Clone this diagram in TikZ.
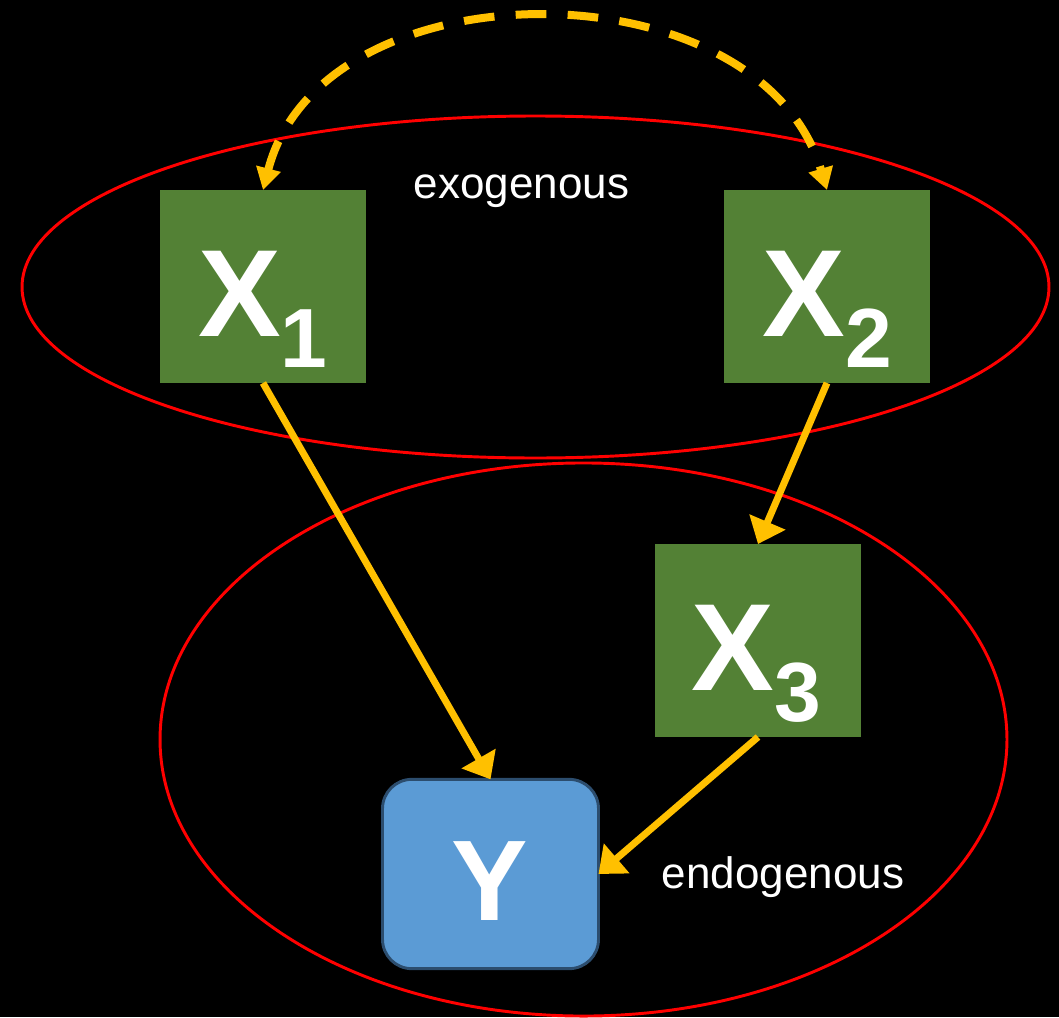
\documentclass[tikz,border=0pt]{standalone}
\usepackage{fontspec}
\setmainfont{Liberation Sans}
\usetikzlibrary{arrows.meta}
\definecolor{boxgreen}{HTML}{538135}
\definecolor{boxblue}{HTML}{5B9BD5}
\definecolor{boxblueedge}{HTML}{2C4D6E}
\definecolor{arrowgold}{HTML}{FFC000}
\tikzset{
  gbox/.style={rectangle, fill=boxgreen, draw=none, minimum width=154.5pt, minimum height=144.75pt, inner sep=0pt, outer sep=0pt},
  ybox/.style={rectangle, rounded corners=22pt, fill=boxblue, draw=boxblueedge, line width=2.2pt, minimum width=162pt, minimum height=142pt, inner sep=0pt, outer sep=0pt},
  xlabel/.style={text=white, font=\bfseries\fontsize{93pt}{93pt}\selectfont, anchor=base, inner sep=0pt},
  ylabel/.style={text=white, font=\bfseries\fontsize{86pt}{86pt}\selectfont, anchor=base, inner sep=0pt},
  setlabel/.style={text=white, font=\fontsize{33pt}{33pt}\selectfont, anchor=base, inner sep=0pt},
  solidarrow/.style={draw=arrowgold, line width=5.2pt, -{Triangle[length=18pt,width=28.5pt]}},
  dasharrow/.style={draw=arrowgold, line width=6pt, dash pattern=on 23pt off 16pt, {Triangle[length=16.5pt,width=18pt]}-{Triangle[length=16.5pt,width=18pt]}},
  setring/.style={draw=red, line width=2.2pt}
}
\newcommand{\mysub}[1]{\raisebox{-23.25pt}{\fontsize{63pt}{63pt}\selectfont #1}}
\begin{document}
\begin{tikzpicture}[x=0.75pt,y=-0.75pt]
\fill[black] (0,0) rectangle (1059,1017);
\useasboundingbox (0,0) rectangle (1059,1017);
% ellipses
\draw[setring] (535.5,287) ellipse [x radius=385.1pt, y radius=128.25pt];
\draw[setring] (583.5,739.5) ellipse [x radius=317.6pt, y radius=207.4pt];
% boxes
\node[gbox] (x1) at (263,286.5) {};
\node[gbox] (x2) at (827,286.5) {};
\node[gbox] (x3) at (758,640.5) {};
\node[ybox] (y) at (490.5,874) {};
% labels
\node[xlabel] (x1t) at (263,336) {X\mysub{1}};
\node[xlabel] (x2t) at (827,336) {X\mysub{2}};
\node[xlabel] (x3t) at (756,690) {X\mysub{3}};
\node[ylabel] (yt) at (490,920) {Y};
\node[setlabel] (exo) at (521.5,198) {exogenous};
\node[setlabel] (endo) at (783,888) {endogenous};
% connectors
\draw[solidarrow] (x1.south) -- (y.north);
\draw[solidarrow] (x2.south) -- (x3.north);
\draw[solidarrow] (x3.south) -- (y.east);
\draw[dasharrow] (x1.north) .. controls (322,-38) and (759,-38) .. (x2.north);
\end{tikzpicture}
\end{document}
